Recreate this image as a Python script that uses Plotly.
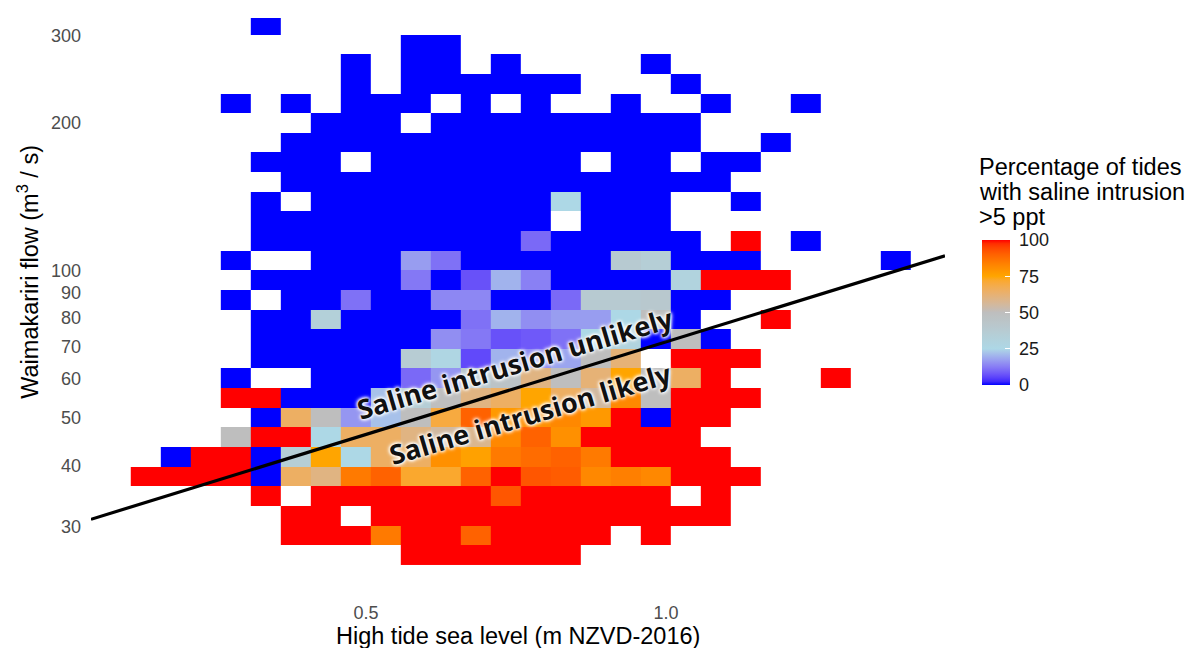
import plotly.graph_objects as go

# ---------------- data ----------------
# bin edges: high-tide sea level (m NZVD-2016) and flow (m3/s, log-spaced bins)
x_edges = [0.108, 0.158, 0.208, 0.258, 0.308, 0.358, 0.408, 0.458, 0.508, 0.558,
           0.608, 0.658, 0.708, 0.758, 0.808, 0.858, 0.908, 0.958, 1.008, 1.058,
           1.108, 1.158, 1.208, 1.258, 1.308, 1.358, 1.408]
flow_edges_top_down = [331.13, 301.99, 275.42, 251.19, 229.09, 208.93, 190.55, 173.78,
                       158.49, 144.54, 131.83, 120.23, 109.65, 100.0, 91.20, 83.18,
                       75.86, 69.18, 63.10, 57.54, 52.48, 47.86, 43.65, 39.81, 36.31,
                       33.11, 30.20, 27.54, 25.12]

_ = None
# percentage of tides with saline intrusion > 5 ppt, rows from highest flow bin down,
# columns from lowest sea-level bin to highest (None = no tides in bin)
pct_rows = [
    [_, _, _, _, 0, _, _, _, _, _, _, _, _, _, _, _, _, _, _, _, _, _, _, _, _, _],
    [_, _, _, _, _, _, _, _, _, 0, 0, _, _, _, _, _, _, _, _, _, _, _, _, _, _, _],
    [_, _, _, _, _, _, _, 0, _, 0, 0, _, 0, _, _, _, _, 0, _, _, _, _, _, _, _, _],
    [_, _, _, _, _, _, _, 0, _, 0, 0, 0, 0, 0, 0, _, _, _, 0, _, _, _, _, _, _, _],
    [_, _, _, 0, _, 0, _, 0, 0, 0, _, 0, _, 0, _, _, 0, _, _, 0, _, _, 0, _, _, _],
    [_, _, _, _, _, _, 0, 0, 0, _, 0, 0, 0, 0, 0, 0, 0, 0, 0, _, _, _, _, _, _, _],
    [_, _, _, _, _, 0, 0, 0, 0, 0, 0, 0, 0, 0, 0, 0, 0, 0, 0, _, _, 0, _, _, _, _],
    [_, _, _, _, 0, 0, 0, _, 0, 0, 0, 0, 0, 0, 0, _, 0, 0, _, 0, 0, _, _, _, _, _],
    [_, _, _, _, _, 0, 0, 0, 0, 0, 0, 0, 0, 0, 0, 0, 0, 0, 0, 0, _, _, _, _, _, _],
    [_, _, _, _, 0, _, 0, 0, 0, 0, 0, 0, 0, 0, 25, 0, 0, 0, _, _, 0, _, _, _, _, _],
    [_, _, _, _, 0, 0, 0, 0, 0, 0, 0, 0, 0, 0, _, 0, 0, 0, _, _, _, _, _, _, _, _],
    [_, _, _, _, 0, 0, 0, 0, 0, 0, 0, 0, 0, 10, 0, 0, 0, 0, 0, _, 100, _, 0, _, _, _],
    [_, _, _, 0, _, _, 0, 0, 0, 17, 11, 0, 0, 0, 0, 0, 38, 35, 0, 0, 0, _, _, _, _, 0],
    [_, _, _, _, 0, 0, 0, 0, 0, 12, 0, 7, 20, 13, 0, 0, 0, 0, 30, 100, 100, 100, _, _, _, _],
    [_, _, _, 0, _, 0, 0, 11, 0, 0, 14, 14, 0, 0, 10, 38, 38, 40, 0, 0, _, _, _, _, _, _],
    [_, _, _, _, 0, 0, 33, 0, 0, 0, 0, 11, 20, 15, 17, 17, 25, 50, 0, _, _, 100, _, _, _, _],
    [_, _, _, _, 0, 0, 0, 0, 0, 0, 15, 12, 7, 8, 11, 25, 30, 0, 50, 0, _, _, _, _, _, _],
    [_, _, _, _, 0, 0, 0, 0, 0, 37, 27, 6, 20, 15, 18, 50, 62, _, 100, 100, 100, _, _, _, _, _],
    [_, _, _, 0, _, _, 0, 0, 0, 10, 16, 40, 45, 60, 50, 62, 75, 50, 65, 100, _, _, _, 100, _, _],
    [_, _, _, 100, 100, 0, 0, 0, 22, 35, 50, 60, 65, 75, 65, 55, 82, 50, 100, 100, 100, _, _, _, _, _],
    [_, _, _, _, 0, 65, 50, 16, 22, 50, 70, 90, 78, 80, 82, 78, 100, 0, 100, 100, _, _, _, _, _, _],
    [_, _, _, 50, 100, 100, 25, 65, 65, 60, 55, 58, 82, 90, 80, 100, 100, 100, 100, _, _, _, _, _, _, _],
    [_, 0, 100, 100, 0, 35, 75, 25, 65, 65, 80, 76, 85, 88, 90, 85, 100, 100, 100, 100, _, _, _, _, _, _],
    [100, 100, 100, 100, 0, 65, 60, 85, 90, 72, 72, 90, 100, 92, 91, 82, 84, 82, 100, 100, 100, _, _, _, _, _],
    [_, _, _, _, 100, _, 100, 100, 100, 100, 100, 100, 92, 100, 100, 100, 100, 100, _, 100, _, _, _, _, _, _],
    [_, _, _, _, _, 100, 100, _, 100, 100, 100, 100, 100, 100, 100, 100, 100, 100, 100, 100, _, _, _, _, _, _],
    [_, _, _, _, _, 100, 100, 100, 85, 100, 100, 90, 100, 100, 100, 100, _, 100, _, _, _, _, _, _, _, _],
    [_, _, _, _, _, _, _, _, _, 100, 100, 100, 100, 100, 100, _, _, _, _, _, _, _, _, _, _, _],
]

# threshold line between "likely" and "unlikely"
threshold_sea_level = [0.0417, 1.465]
threshold_flow = [31.1, 107.0]

y_tick_values = [30, 40, 50, 60, 70, 80, 90, 100, 200, 300]
y_tick_labels = ["30", "40", "50", "60", "70", "80", "90", "100", "200", "300"]
x_tick_values = [0.5, 1.0]
x_tick_labels = ["0.5", "1.0"]
legend_ticks = [0, 25, 50, 75, 100]

# ---------------- colour scale (CIELAB interpolation like ggplot2) ----------------
anchor_cols = ["#0000FF", "#ADD8E6", "#BEBEBE", "#FFA500", "#FF0000"]


def hex_to_lab(h):
    rgb = [int(h[i:i + 2], 16) / 255 for i in (1, 3, 5)]
    lin = [c / 12.92 if c <= 0.04045 else ((c + 0.055) / 1.055) ** 2.4 for c in rgb]
    r, g, b = lin
    X = (0.4124 * r + 0.3576 * g + 0.1805 * b) / 0.95047
    Y = (0.2126 * r + 0.7152 * g + 0.0722 * b)
    Z = (0.0193 * r + 0.1192 * g + 0.9505 * b) / 1.08883
    d = 6 / 29

    def f(t):
        return t ** (1 / 3) if t > d ** 3 else t / (3 * d * d) + 4 / 29
    fx, fy, fz = f(X), f(Y), f(Z)
    return (116 * fy - 16, 500 * (fx - fy), 200 * (fy - fz))


def lab_to_hex(lab):
    L, a, b = lab
    d = 6 / 29
    fy = (L + 16) / 116
    fx = fy + a / 500
    fz = fy - b / 200

    def finv(t):
        return t ** 3 if t > d else 3 * d * d * (t - 4 / 29)
    X, Y, Z = finv(fx) * 0.95047, finv(fy), finv(fz) * 1.08883
    r = 3.2406 * X - 1.5372 * Y - 0.4986 * Z
    g = -0.9689 * X + 1.8758 * Y + 0.0415 * Z
    bb = 0.0557 * X - 0.2040 * Y + 1.0570 * Z
    out = []
    for c in (r, g, bb):
        c = min(max(c, 0), 1)
        c = 12.92 * c if c <= 0.0031308 else 1.055 * c ** (1 / 2.4) - 0.055
        out.append(int(round(min(max(c, 0), 1) * 255)))
    return "#%02x%02x%02x" % tuple(out)


labs = [hex_to_lab(c) for c in anchor_cols]
colorscale = []
nstep = 10
for seg in range(4):
    for k in range(nstep):
        t = k / nstep
        lab = tuple(labs[seg][i] + (labs[seg + 1][i] - labs[seg][i]) * t for i in range(3))
        colorscale.append([(seg + t) / 4, lab_to_hex(lab)])
colorscale.append([1.0, anchor_cols[-1].lower()])

# ---------------- figure ----------------
z = pct_rows[::-1]
y_edges = flow_edges_top_down[::-1]

FONT = "Liberation Sans, Arial, sans-serif"

fig = go.Figure()
fig.add_trace(go.Heatmap(
    x=x_edges, y=y_edges, z=z,
    zmin=0, zmax=100, colorscale=colorscale,
    hoverongaps=False,
    colorbar=dict(
        lenmode="pixels", len=145, thickness=28, xpad=0, ypad=0,
        x=1.0433, xanchor="left", y=0.494, yanchor="middle",
        outlinewidth=0, tickvals=legend_ticks,
        ticktext=["\u00a0" + str(v) for v in legend_ticks],
        ticks="inside", ticklen=5, tickcolor="white", tickwidth=1,
        tickfont=dict(family=FONT, size=18, color="#1a1a1a"),
    ),
))

fig.add_trace(go.Scatter(
    x=threshold_sea_level, y=threshold_flow, mode="lines",
    line=dict(color="black", width=3.2), hoverinfo="skip", showlegend=False,
))

label_font = dict(family="Open Sans, Liberation Sans, sans-serif", size=27, color="#111111",
                  weight="bold",
                  shadow="0px 0px 3px white, 0px 0px 3px white, 0px 0px 4px white, 0px 0px 5px white")
fig.add_annotation(x=0.748, y=1.811, xref="x", yref="y", text="Saline intrusion unlikely",
                   showarrow=False, textangle=-16.5, font=label_font)
fig.add_annotation(x=0.775, y=1.708, xref="x", yref="y", text="Saline intrusion likely",
                   showarrow=False, textangle=-16.5, font=label_font)

# axis titles
fig.add_annotation(x=0.5, y=-0.061, xref="paper", yref="paper", xanchor="center", yanchor="middle",
                   text="High tide sea level (m NZVD-2016)", showarrow=False,
                   font=dict(family=FONT, size=23.5, color="black"))
fig.add_annotation(x=-0.074, y=0.5636, xref="paper", yref="paper", xanchor="center", yanchor="middle",
                   text="Waimakariri flow (m<sup>3</sup> / s)", showarrow=False, textangle=-90,
                   font=dict(family=FONT, size=23.5, color="black"))

# legend title lines
legend_title_lines = ["Percentage of tides", "with saline intrusion", ">5 ppt"]
for i, line in enumerate(legend_title_lines):
    fig.add_annotation(x=1.037, y=(600 - 167 - 25 * i) / 582, xref="paper", yref="paper",
                       xanchor="left", yanchor="middle", text=line, showarrow=False,
                       font=dict(family=FONT, size=23.5, color="black"))

tick_font = dict(family=FONT, size=18, color="#4d4d4d")
fig.update_layout(
    width=1189, height=648,
    margin=dict(l=91, r=244, t=18, b=48, autoexpand=False),
    paper_bgcolor="white", plot_bgcolor="white",
    xaxis=dict(range=[0.0417, 1.465], showgrid=False, zeroline=False, showline=False,
               tickvals=x_tick_values, ticktext=x_tick_labels, tickfont=tick_font, ticks="",
               automargin=False),
    yaxis=dict(type="log", range=[1.3284, 2.5138], showgrid=False, zeroline=False, showline=False,
               tickvals=y_tick_values, ticktext=y_tick_labels, tickfont=tick_font, ticks="",
               ticklabelstandoff=9, automargin=False),
    showlegend=False,
)

# remove the browser's default page margin so the figure fills the window exactly
fig.write_html("out.html",
               config={"displayModeBar": False},
               post_script="document.body.style.margin='0';document.body.style.overflow='hidden';")
